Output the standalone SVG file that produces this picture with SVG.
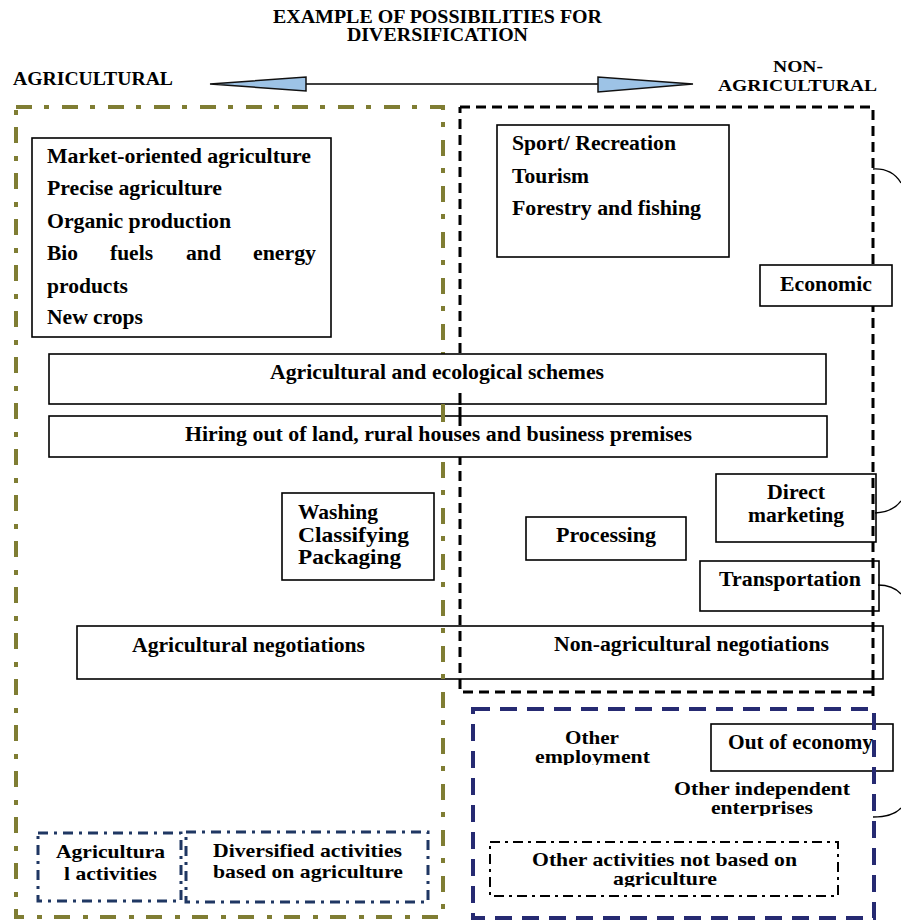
<svg xmlns="http://www.w3.org/2000/svg" width="901" height="921" viewBox="0 0 901 921">
<defs>
<style>
.t{font-family:"Liberation Serif","Times New Roman",serif;font-weight:bold;fill:#000}
.box{fill:#fff;stroke:#000;stroke-width:1.6}
.olive{fill:none;stroke:#7f7d33;stroke-width:4;stroke-dasharray:16 12 5 13}
.blk{fill:none;stroke:#000;stroke-width:3;stroke-dasharray:10 6}
.navy{fill:none;stroke:#262a72;stroke-width:4;stroke-dasharray:17 10}
.ddot{fill:#fff;stroke:#1f3763;stroke-width:3;stroke-dasharray:10 6 3 6}
.kdot{fill:#fff;stroke:#000;stroke-width:2;stroke-dasharray:10 5 3 5}
.head{fill:#9dc3e6;stroke:#111;stroke-width:1.5}
.link{fill:none;stroke:#000;stroke-width:1.3}
</style>
<clipPath id="clipEmp"><rect x="520" y="720" width="150" height="45"/></clipPath>
<clipPath id="clipEnt"><rect x="660" y="775" width="200" height="41"/></clipPath>
<clipPath id="clipAgr"><rect x="500" y="845" width="330" height="42"/></clipPath>
</defs>

<g id="title">
<text class="t" x="273" y="23" font-size="18" textLength="329" lengthAdjust="spacingAndGlyphs">EXAMPLE OF POSSIBILITIES FOR</text>
<text class="t" x="347" y="41" font-size="18" textLength="181" lengthAdjust="spacingAndGlyphs">DIVERSIFICATION</text>
</g>
<g id="label-agricultural">
<text class="t" x="13" y="85" font-size="18" textLength="160" lengthAdjust="spacingAndGlyphs">AGRICULTURAL</text>
</g>
<g id="label-non-agricultural">
<text class="t" x="773" y="72" font-size="17" textLength="50" lengthAdjust="spacingAndGlyphs">NON-</text>
<text class="t" x="718" y="91" font-size="17" textLength="159" lengthAdjust="spacingAndGlyphs">AGRICULTURAL</text>
</g>

<g id="market-box">
<rect class="box" x="32" y="138" width="299" height="199"/>
<text class="t" x="47" y="163" font-size="20" textLength="264" lengthAdjust="spacingAndGlyphs">Market-oriented agriculture</text>
<text class="t" x="47" y="195" font-size="20" textLength="175" lengthAdjust="spacingAndGlyphs">Precise agriculture</text>
<text class="t" x="47" y="228" font-size="20" textLength="184" lengthAdjust="spacingAndGlyphs">Organic production</text>
<text class="t" x="47" y="260" font-size="20" textLength="31" lengthAdjust="spacingAndGlyphs">Bio</text>
<text class="t" x="110" y="260" font-size="20" textLength="43" lengthAdjust="spacingAndGlyphs">fuels</text>
<text class="t" x="186" y="260" font-size="20" textLength="35" lengthAdjust="spacingAndGlyphs">and</text>
<text class="t" x="253" y="260" font-size="20" textLength="63" lengthAdjust="spacingAndGlyphs">energy</text>
<text class="t" x="47" y="293" font-size="20" textLength="81" lengthAdjust="spacingAndGlyphs">products</text>
<text class="t" x="47" y="324" font-size="20" textLength="96" lengthAdjust="spacingAndGlyphs">New crops</text>
</g>

<g id="sport-box">
<rect class="box" x="497" y="125" width="232" height="132"/>
<text class="t" x="512" y="150" font-size="20" textLength="164" lengthAdjust="spacingAndGlyphs">Sport/ Recreation</text>
<text class="t" x="512" y="183" font-size="20" textLength="77" lengthAdjust="spacingAndGlyphs">Tourism</text>
<text class="t" x="512" y="215" font-size="20" textLength="189" lengthAdjust="spacingAndGlyphs">Forestry and fishing</text>
</g>

<g id="washing-box">
<rect class="box" x="282" y="493" width="152" height="87"/>
<text class="t" x="298" y="519" font-size="21" textLength="80" lengthAdjust="spacingAndGlyphs">Washing</text>
<text class="t" x="298" y="542" font-size="21" textLength="111" lengthAdjust="spacingAndGlyphs">Classifying</text>
<text class="t" x="298" y="564" font-size="21" textLength="103" lengthAdjust="spacingAndGlyphs">Packaging</text>
</g>

<g id="processing-box">
<rect class="box" x="526" y="517" width="160" height="43"/>
<text class="t" x="556" y="542" font-size="20" textLength="100" lengthAdjust="spacingAndGlyphs">Processing</text>
</g>

<g id="direct-marketing-box">
<rect class="box" x="716" y="474" width="160" height="68"/>
<text class="t" x="767" y="499" font-size="20" textLength="58" lengthAdjust="spacingAndGlyphs">Direct</text>
<text class="t" x="748" y="522" font-size="20" textLength="96" lengthAdjust="spacingAndGlyphs">marketing</text>
</g>

<g id="transportation-box">
<rect class="box" x="700" y="561" width="179" height="50"/>
<text class="t" x="719" y="586" font-size="20" textLength="142" lengthAdjust="spacingAndGlyphs">Transportation</text>
</g>

<g id="negotiations-box">
<rect class="box" x="77" y="626" width="806" height="53"/>
<text class="t" x="132" y="652" font-size="20" textLength="233" lengthAdjust="spacingAndGlyphs">Agricultural negotiations</text>
<text class="t" x="554" y="651" font-size="20" textLength="275" lengthAdjust="spacingAndGlyphs">Non-agricultural negotiations</text>
</g>

<g id="out-of-economy-box">
<rect class="box" x="711" y="724" width="182" height="47"/>
<text class="t" x="728" y="749" font-size="20" textLength="145" lengthAdjust="spacingAndGlyphs">Out of economy</text>
</g>

<g id="other-activities-box">
<rect class="kdot" x="490" y="842" width="348" height="54"/>
<text class="t" x="532" y="866" font-size="19" textLength="265" lengthAdjust="spacingAndGlyphs">Other activities not based on</text>
<text class="t" x="613" y="885" font-size="19" textLength="104" lengthAdjust="spacingAndGlyphs" clip-path="url(#clipAgr)">agriculture</text>
</g>

<g id="agricultural-activities-box">
<rect class="ddot" x="38" y="833" width="143" height="68"/>
<text class="t" x="56" y="858" font-size="19" textLength="109" lengthAdjust="spacingAndGlyphs">Agricultura</text>
<text class="t" x="64" y="880" font-size="19" textLength="93" lengthAdjust="spacingAndGlyphs">l activities</text>
</g>

<g id="diversified-activities-box">
<rect class="ddot" x="186" y="832" width="242" height="70"/>
<text class="t" x="213" y="857" font-size="19" textLength="189" lengthAdjust="spacingAndGlyphs">Diversified activities</text>
<text class="t" x="213" y="878" font-size="19" textLength="190" lengthAdjust="spacingAndGlyphs">based on agriculture</text>
</g>

<g id="other-employment">
<text class="t" x="565" y="744" font-size="19" textLength="54" lengthAdjust="spacingAndGlyphs">Other</text>
<text class="t" x="535" y="763" font-size="19" textLength="115" lengthAdjust="spacingAndGlyphs" clip-path="url(#clipEmp)">employment</text>
</g>

<g id="other-independent-enterprises">
<text class="t" x="674" y="795" font-size="19" textLength="176" lengthAdjust="spacingAndGlyphs">Other independent</text>
<text class="t" x="711" y="814" font-size="19" textLength="102" lengthAdjust="spacingAndGlyphs" clip-path="url(#clipEnt)">enterprises</text>
</g>

<g id="agricultural-area">
<rect class="olive" x="16" y="107" width="427" height="810"/>
</g>
<g id="non-agricultural-area">
<path class="blk" d="M460,107 H873 V700 M873,692 H460 V107"/>
</g>
<g id="other-employment-area">
<rect class="navy" x="473" y="709" width="401" height="209"/>
</g>

<g id="economic-box">
<rect class="box" x="760" y="265" width="132" height="41"/>
<text class="t" x="780" y="291" font-size="20" textLength="92" lengthAdjust="spacingAndGlyphs">Economic</text>
</g>

<g id="ecological-schemes-box">
<rect class="box" x="49" y="354" width="777" height="50"/>
<text class="t" x="270" y="379" font-size="20" textLength="334" lengthAdjust="spacingAndGlyphs">Agricultural and ecological schemes</text>
</g>

<g id="hiring-box">
<rect class="box" x="49" y="416" width="778" height="41"/>
<text class="t" x="185" y="441" font-size="20" textLength="507" lengthAdjust="spacingAndGlyphs">Hiring out of land, rural houses and business premises</text>
</g>

<g id="divider-marks">
<path d="M460,393 V405 M460,416 V426" stroke="#000" stroke-width="3"/>
<path d="M443,404 V422" stroke="#7f7d33" stroke-width="4"/>
</g>

<g id="connectors">
<line x1="306" y1="84" x2="598" y2="84" stroke="#000" stroke-width="1.5"/>
<polygon class="head" points="210,84 306,77 306,91"/>
<polygon class="head" points="693,84 598,77 598,92"/>
<path class="link" d="M873,169 Q892,168 901,183"/>
<path class="link" d="M875,513 Q893,512 901,501"/>
<path class="link" d="M878,585 Q893,585 901,594"/>
<path class="link" d="M873,817 Q893,817 901,808"/>
</g>
</svg>
